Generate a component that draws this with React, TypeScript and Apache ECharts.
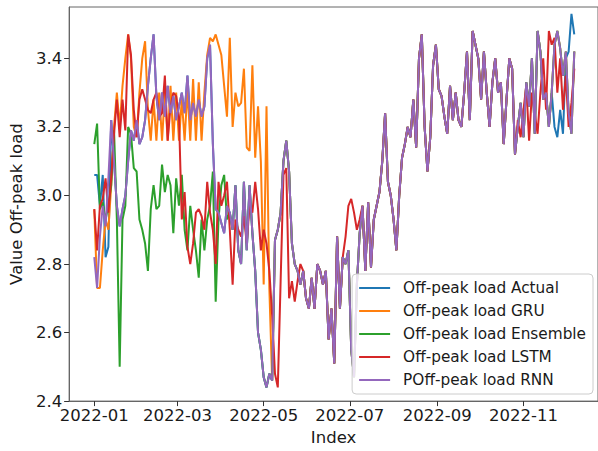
import React, { useEffect, useRef } from "react";
import * as echarts from "echarts";

const STEP_DAYS = 2; // one value every 2 days, starting 2022-01-01 (day 0)

const seriesNames = [
  "Off-peak load Actual",
  "Off-peak load GRU",
  "Off-peak load Ensemble",
  "Off-peak load LSTM",
  "POff-peak load RNN",
];
const colors = ["#1f77b4", "#ff7f0e", "#2ca02c", "#d62728", "#9467bd"];

// day offsets of 2022-01-01, 03-01, 05-01, 07-01, 09-01, 11-01
const xTickDays = [0, 59, 120, 181, 243, 304];
const xTickLabels = ["2022-01", "2022-03", "2022-05", "2022-07", "2022-09", "2022-11"];
const yTicks = [2.4, 2.6, 2.8, 3.0, 3.2, 3.4];
const yTickLabels = ["2.4", "2.6", "2.8", "3.0", "3.2", "3.4"];

// RNN, every 2 days from 2022-01-01 (171 values)
const rnn = [
  2.82, 2.73, 2.88, 2.97, 2.91, 3.05, 3.22, 3.10, 2.97, 2.91,
  2.96, 3.00, 3.10, 3.19, 3.16, 3.22, 3.15, 3.17, 3.22, 3.32,
  3.40, 3.47, 3.29, 3.22, 3.30, 3.23, 3.32, 3.24, 3.29, 3.22,
  3.26, 3.30, 3.24, 3.35, 3.22, 3.27, 3.23, 3.28, 3.23, 3.26,
  3.40, 3.44, 3.15, 2.96, 2.95, 2.92, 2.89, 2.97, 2.95, 2.90,
  3.03, 2.84, 2.80, 3.04, 2.84, 3.03, 2.89, 2.78, 2.60, 2.55,
  2.47, 2.44, 2.48, 2.46, 2.87, 2.90, 2.95, 3.10, 3.16, 3.07,
  2.86, 2.80, 2.78, 2.74, 2.78, 2.70, 2.67, 2.76, 2.67, 2.80,
  2.78, 2.74, 2.78, 2.58, 2.67, 2.51, 2.88, 2.67, 2.82, 2.80,
  2.84, 2.55, 2.47, 2.74, 2.89, 2.97, 2.78, 2.98, 2.79, 2.93,
  2.97, 3.01, 3.10, 3.24, 3.04, 3.00, 2.93, 2.84, 3.00, 3.11,
  3.15, 3.20, 3.17, 3.28, 3.14, 3.40, 3.47, 3.20, 3.07, 3.17,
  3.38, 3.44, 3.31, 3.29, 3.23, 3.18, 3.32, 3.22, 3.30, 3.22,
  3.20, 3.30, 3.42, 3.22, 3.48, 3.44, 3.40, 3.28, 3.42, 3.30,
  3.20, 3.33, 3.40, 3.30, 3.33, 3.15, 3.28, 3.40, 3.37, 3.12,
  3.20, 3.27, 3.17, 3.33, 3.26, 3.40, 3.18, 3.48, 3.42, 3.28,
  3.30, 3.20, 3.30, 3.44, 3.48, 3.43, 3.35, 3.42, 3.24, 3.18,
  3.42,
];

// LSTM where it differs from RNN
const lstmJanMay = [
  2.96, 2.84, 2.97, 2.99, 3.05, 2.95, 3.05, 3.18, 3.28, 3.17,
  3.28, 3.19, 3.47, 3.41, 3.25, 3.17, 3.28, 3.31, 3.28, 3.25,
  3.24, 3.28, 3.30, 3.23, 3.24, 3.35, 3.16, 3.26, 3.30, 3.29,
  3.23, 2.93, 3.01, 2.85, 2.80, 2.86, 2.95, 2.96, 2.94, 2.90,
  3.04, 2.95, 2.90, 2.80, 3.04, 2.97, 3.00, 3.04, 2.90, 2.74,
  2.93, 2.90, 2.88, 2.94, 2.86, 2.97, 2.95, 3.04, 2.96, 2.84,
  2.90, 2.86, 2.78, 2.65, 2.48, 2.44, 2.75, 3.06, 3.08, 2.70,
  2.75, 2.69, 2.75, 2.80, 2.78,
]; // days 0-148
const lstmJul = [2.88, 2.97, 2.99, 2.95, 2.90, 2.93, 2.97]; // days 178-190
const lstmNovDec = [
  3.22, 3.17, 3.25, 3.32, 3.16, 3.30, 3.24, 3.18, 3.30, 3.40,
  3.25, 3.48, 3.44, 3.46, 3.30, 3.40, 3.25, 3.35, 3.20, 3.27,
  3.37,
]; // days 300-340

// GRU where it differs from RNN (days 0-124)
const gruJanApr = [
  2.96, 2.73, 2.73, 2.84, 2.93, 2.90, 3.03, 3.20, 3.30, 3.20,
  3.32, 3.40, 3.47, 3.40, 3.20, 3.17, 3.30, 3.40, 3.45, 3.25,
  3.16, 3.28, 3.16, 3.30, 3.16, 3.30, 3.16, 3.32, 3.16, 3.30,
  3.16, 3.28, 3.16, 3.31, 3.16, 3.34, 3.16, 3.33, 3.16, 3.30,
  3.41, 3.46, 3.45, 3.47, 3.44, 3.41, 3.32, 3.23, 3.46, 3.20,
  3.30, 3.26, 3.27, 3.37, 3.14, 3.13, 3.38, 3.11, 3.26, 3.10,
  2.74, 3.26, 2.73,
];

// Ensemble where it differs from RNN (days 0-94)
const ensJanApr = [
  3.15, 3.21, 2.96, 2.98, 2.93, 2.97, 3.03, 3.19, 2.93, 2.50,
  2.93, 2.97, 3.20, 3.18, 3.08, 3.07, 2.93, 2.90, 2.86, 2.78,
  2.96, 3.03, 2.96, 2.97, 3.09, 3.01, 3.06, 3.03, 2.89, 3.05,
  2.97, 3.06, 2.90, 2.84, 2.97, 2.90, 2.84, 2.76, 2.93, 2.84,
  2.93, 2.97, 3.07, 2.69, 2.93, 3.03, 3.06, 2.93,
];

// Actual where it differs from RNN
const actualJan = [3.06, 3.06, 2.97, 3.06, 2.82, 2.85, 3.22]; // days 0-12
const actualDec = [3.20, 3.17, 3.25, 3.18, 3.40, 3.42, 3.53, 3.47]; // days 326-340

const actual = [...actualJan, ...rnn.slice(7, 163), ...actualDec];
const gru = [...gruJanApr, ...rnn.slice(63)];
const ens = [...ensJanApr, ...rnn.slice(48)];
const lstm = [...lstmJanMay, ...rnn.slice(75, 89), ...lstmJul, ...rnn.slice(96, 150), ...lstmNovDec];

const allValues = [actual, gru, ens, lstm, rnn];

const FONT = "DejaVu Sans";

export default function App() {
  const ref = useRef<HTMLDivElement>(null);
  useEffect(() => {
    if (!ref.current) return;
    const chart = echarts.init(ref.current, undefined, { renderer: "svg" });
    const toPairs = (vals: number[]) => vals.map((v, i) => [i * STEP_DAYS, v]);
    chart.setOption({
      animation: false,
      backgroundColor: "#ffffff",
      grid: {
        left: 62,
        right: -4,
        top: 7,
        bottom: 46,
        containLabel: false,
        show: true,
        borderColor: "#666",
        borderWidth: 1,
      },
      legend: {
        orient: "vertical",
        right: 5,
        bottom: 57,
        icon: "rect",
        itemWidth: 31,
        itemHeight: 2,
        itemGap: 5,
        padding: [5, 7, 5, 7],
        backgroundColor: "rgba(255,255,255,0.8)",
        borderColor: "#cccccc",
        borderWidth: 1,
        borderRadius: 4,
        textStyle: { fontFamily: FONT, fontSize: 15.3, color: "#1a1a1a", lineHeight: 18, padding: [0, 0, 0, 8] },
        data: seriesNames,
      },
      xAxis: {
        type: "value",
        min: -17.8,
        max: 356.8,
        name: "Index",
        nameLocation: "middle",
        nameGap: 23,
        nameTextStyle: { fontFamily: FONT, fontSize: 16.5, color: "#1a1a1a" },
        axisLine: { show: true, onZero: false, lineStyle: { color: "#666", width: 1 } },
        axisTick: { show: true, length: 5, lineStyle: { color: "#333" }, customValues: xTickDays },
        axisLabel: {
          customValues: xTickDays,
          margin: 6,
          fontFamily: FONT,
          fontSize: 16.5,
          color: "#1a1a1a",
          formatter: (v: number) => {
            const idx = xTickDays.indexOf(Math.round(v));
            return idx >= 0 ? xTickLabels[idx] : "";
          },
        },
        splitLine: { show: false },
      },
      yAxis: {
        type: "value",
        min: 2.4,
        max: 3.55,
        name: "Value Off-peak load",
        nameLocation: "middle",
        nameGap: 37,
        nameTextStyle: { fontFamily: FONT, fontSize: 16.5, color: "#1a1a1a" },
        axisLine: { show: true, onZero: false, lineStyle: { color: "#666", width: 1 } },
        axisTick: { show: true, length: 5, lineStyle: { color: "#333" }, customValues: yTicks },
        axisLabel: {
          customValues: yTicks,
          margin: 7,
          fontFamily: FONT,
          fontSize: 16.5,
          color: "#1a1a1a",
          formatter: (v: number) => {
            const idx = yTicks.findIndex((t) => Math.abs(t - v) < 1e-6);
            return idx >= 0 ? yTickLabels[idx] : "";
          },
        },
        splitLine: { show: false },
      },
      series: allValues.map((vals, k) => ({
        name: seriesNames[k],
        type: "line",
        data: toPairs(vals),
        symbol: "none",
        color: colors[k],
        lineStyle: { color: colors[k], width: 2 },
        emphasis: { disabled: true },
        z: 2,
      })),
    });
    return () => chart.dispose();
  }, []);
  return (
    <div
      ref={ref}
      style={{ position: "fixed", left: 0, top: 0, width: 598, height: 451, background: "#fff" }}
    />
  );
}
